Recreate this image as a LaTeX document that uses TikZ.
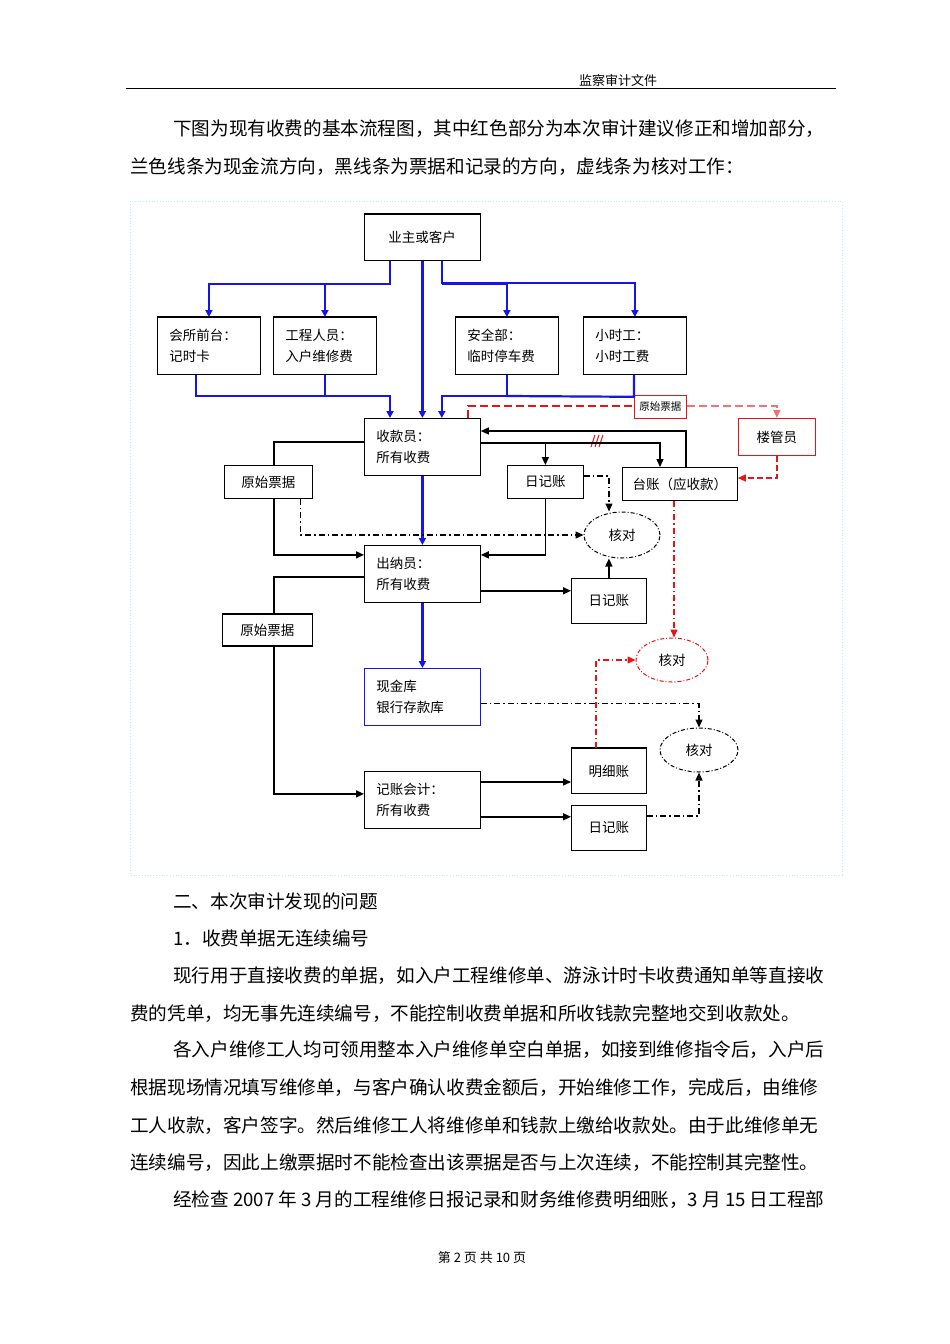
\documentclass[tikz,border=0pt]{standalone}
\usepackage{fontspec}
\setmainfont{Noto Sans CJK SC}
\usetikzlibrary{arrows.meta}
\XeTeXlinebreaklocale "zh"
\XeTeXlinebreakskip=0pt plus 6pt minus 0.4pt
\definecolor{bl}{RGB}{20,20,235}
\definecolor{rd}{RGB}{230,20,20}
\tikzset{
 bx/.style={draw, line width=0.8pt, minimum height=57pt, anchor=north west, inner xsep=12pt, align=left, font=\fontsize{13.5}{15}\selectfont, text width=#1},
 sb/.style={draw, line width=0.8pt, anchor=north west, inner sep=0pt, font=\fontsize{13.5}{15}\selectfont},
 el/.style={draw, ellipse, line width=1pt, dash pattern=on 4pt off 2pt on 1pt off 2pt, inner sep=0pt, font=\fontsize{13.5}{15}\selectfont},
 bw/.style={line width=2.2pt, bl, -{Triangle[length=7pt,width=7pt]}},
 bwn/.style={line width=2.2pt, bl},
 kw/.style={line width=1.4pt, -{Triangle[length=8pt,width=7pt]}},
 kwn/.style={line width=1.4pt},
 dd/.style={line width=1.2pt, dash pattern=on 6pt off 3pt on 1.5pt off 3pt},
 para/.style={anchor=north west, inner sep=0pt, text width=707pt, align=justify, font=\fontsize{18.6}{20}\selectfont},
 arr/.style={-{Triangle[length=8pt,width=7pt]}},
}
\usetikzlibrary{shapes.geometric}
\begin{document}
\begin{tikzpicture}[x=1pt,y=-1pt]
\useasboundingbox (0,0) rectangle (950,1344);
% header
\node[anchor=base, font=\fontsize{13}{15}\selectfont] (hd) at (618,85) {监察审计文件};
\draw[line width=0.8pt] (126,88) -- (836,88);
% text
\node[para] (p1) at (130,120) {\parfillskip=0pt\hspace*{43pt}下图为现有收费的基本流程图，其中红色部分为本次审计建议修正和增加部分，};
\node[para] (p2) at (130,158) {兰色线条为现金流方向，黑线条为票据和记录的方向，虚线条为核对工作：};
% frame
\draw[cyan!25, dotted, line width=0.8pt] (130,201) rectangle (842,875);
% boxes
\node[bx=90pt, minimum width=116pt, minimum height=46pt] (ye) at (364,214) {\hspace*{11pt}业主或客户};
\node[bx=79pt, minimum width=103pt] (hs) at (157,317) {会所前台：\\[6pt]记时卡};
\node[bx=79pt, minimum width=103pt] (gc) at (273,317) {工程人员：\\[6pt]入户维修费};
\node[bx=79pt, minimum width=103pt] (aq) at (455,317) {安全部：\\[6pt]临时停车费};
\node[bx=79pt, minimum width=103pt] (xs) at (583,317) {小时工：\\[6pt]小时工费};
\node[bx=92pt, minimum width=116pt] (sk) at (364,418) {收款员：\\[6pt]所有收费};
\node[bx=92pt, minimum width=116pt] (cn) at (364,545) {出纳员：\\[6pt]所有收费};
\node[bx=92pt, minimum width=116pt, draw=bl] (xj) at (364,668) {现金库\\[6pt]银行存款库};
\node[bx=92pt, minimum width=116pt] (jz) at (364,771) {记账会计：\\[6pt]所有收费};
\node[sb, minimum width=88pt, minimum height=33pt] (yp1) at (224,465) {原始票据};
\node[sb, minimum width=90pt, minimum height=31pt] (yp2) at (222,614) {原始票据};
\node[sb, minimum width=76pt, minimum height=33pt] (rj1) at (507,465) {日记账};
\node[sb, minimum width=115pt, minimum height=33pt] (tz) at (622,467) {台账（应收款）};
\node[sb, minimum width=75pt, minimum height=45pt] (rj2) at (571,578) {日记账};
\node[sb, minimum width=75pt, minimum height=45pt] (mx) at (571,748) {明细账};
\node[sb, minimum width=75pt, minimum height=45pt] (rj3) at (571,805) {日记账};
\node[sb, draw=rd, minimum width=77pt, minimum height=37pt] (lg) at (738,418) {楼管员};
\node[sb, draw=rd, minimum width=52pt, minimum height=23pt, font=\fontsize{10.5}{12}\selectfont] (yp0) at (634,395) {原始票据};
\node[el, minimum width=76pt, minimum height=46pt] (hd1) at (622,535) {核对};
\node[el, draw=rd, minimum width=72pt, minimum height=44pt] (hd2) at (672,660) {核对};
\node[el, minimum width=78pt, minimum height=44pt] (hd3) at (699,750) {核对};
% thick tops
\foreach \n in {ye,hs,gc,aq,xs,yp2,mx} \draw[line width=2pt] (\n.north west) -- (\n.north east);
\draw[line width=2pt] (yp2.south west) -- (yp2.south east);
% blue lines
\draw[bw] ([xshift=26pt]ye.south west) -- ++(0,23) -| (hs.north);
\draw[bw] ([xshift=26pt,yshift=-23pt]ye.south west) -| (gc.north);
\draw[bw] (ye.south) -- (sk.north);
\draw[bw] ([xshift=-39pt]ye.south east) |- ([yshift=34pt]xs.north) -- (xs.north);
\draw[bw] ([xshift=-39pt,yshift=-23pt]ye.south east) -| (aq.north);
\draw[bw] ([xshift=39pt]hs.south west) |- ([xshift=26pt,yshift=22pt]sk.north west) -- ([xshift=26pt]sk.north west);
\draw[bwn] (gc.south) -- ++(0,22);
\draw[bw] (aq.south) |- ([xshift=-39pt,yshift=22pt]sk.north east) -- ([xshift=-39pt]sk.north east);
\draw[bwn] ([xshift=51pt]xs.south west) -- ++(0,22) -- (aq.south |- 0,396);
\draw[bw] (sk.south) -- (cn.north);
\draw[bw] (cn.south) -- (xj.north);
% red
\draw[rd, line width=1.5pt, dash pattern=on 8pt off 4pt] ([xshift=-13pt]sk.north east) -- ++(0,-12) -- (yp0.west |- 0,406);
\draw[rd!60, line width=1.5pt, dash pattern=on 8pt off 4pt, arr] (yp0.east |- 0,406) -| (lg.north);
\draw[rd, line width=1.3pt, dash pattern=on 6pt off 3pt, arr] (lg.south) |- ([yshift=-11pt]tz.north east);
\draw[rd, line width=1pt] (595,435) -- (591,447) (599,435) -- (595,447) (603,435) -- (599,447);
\draw[rd, dd, line width=1.4pt, arr] ([xshift=52pt]tz.south west) -- ([xshift=2pt]hd2.north);
\draw[rd, dd, arr] ([xshift=25pt]mx.north west) |- (hd2.west);
% black
\draw[kw] ([xshift=64pt]tz.north west) |- ([yshift=-13pt]sk.north east);
\draw[kw] ([yshift=-25pt]sk.north east) -| ([xshift=38pt]tz.north west);
\draw[kw] (rj1.north |- 0,443) -- (rj1.north);
\draw[kwn] ([yshift=-24pt]sk.north west) -| (yp1.north -| 274,0);
\draw[kw] (274,498) |- ([yshift=19pt]cn.west);
\draw[kw] (rj1.south) |- ([yshift=19pt]cn.east);
\draw[kw] ([yshift=12pt]cn.south east) -- ([yshift=12pt]cn.south east -| rj2.west);
\draw[kwn] ([yshift=-32pt]cn.north west) -| (yp2.north -| 274,0);
\draw[kw] (274,645) |- ([yshift=6pt]jz.west);
\draw[kw] ([yshift=-11pt]jz.north east) -- ([yshift=-11pt]jz.north east -| mx.west);
\draw[kw] ([yshift=12pt]jz.south east) -- ([yshift=12pt]jz.south east -| rj3.west);
\draw[kw] (rj2.north) -- (hd1.south -| rj2.north);
% dash-dot black
\draw[dd, arr] ([xshift=-12pt]yp1.south east) |- (hd1.west);
\draw[dd, arr] ([yshift=-11pt]rj1.north east) -| ([xshift=-13pt]hd1.north);
\draw[dd, arr] ([yshift=22pt]xj.south east) -| (hd3.north);
\draw[dd, arr] ([yshift=-11pt]rj3.north east) -| (hd3.south);
% lower text
\node[para] (p3) at (130,893) {\hspace*{43pt}二、本次审计发现的问题};
\node[para] (p4) at (130,930) {\hspace*{43pt}1．收费单据无连续编号};
\node[para] (p5) at (130,967) {\parfillskip=0pt\hspace*{43pt}现行用于直接收费的单据，如入户工程维修单、游泳计时卡收费通知单等直接收};
\node[para] (p6) at (130,1004) {\parfillskip=0pt 费的凭单，均无事先连续编号，不能控制收费单据和所收钱款完整地交到收款处。};
\node[para] (p7) at (130,1041) {\parfillskip=0pt\hspace*{43pt}各入户维修工人均可领用整本入户维修单空白单据，如接到维修指令后，入户后};
\node[para] (p8) at (130,1078) {\parfillskip=0pt 根据现场情况填写维修单，与客户确认收费金额后，开始维修工作，完成后，由维修};
\node[para] (p9) at (130,1116) {\parfillskip=0pt 工人收款，客户签字。然后维修工人将维修单和钱款上缴给收款处。由于此维修单无};
\node[para] (p10) at (130,1153) {\parfillskip=0pt 连续编号，因此上缴票据时不能检查出该票据是否与上次连续，不能控制其完整性。};
\node[para] (p11) at (130,1191) {\parfillskip=0pt\hspace*{43pt}经检查 2007 年 3 月的工程维修日报记录和财务维修费明细账，3 月 15 日工程部};
\node[font=\fontsize{13}{15}\selectfont] (ft) at (482,1258) {第 2 页 共 10 页};
\end{tikzpicture}
\end{document}
